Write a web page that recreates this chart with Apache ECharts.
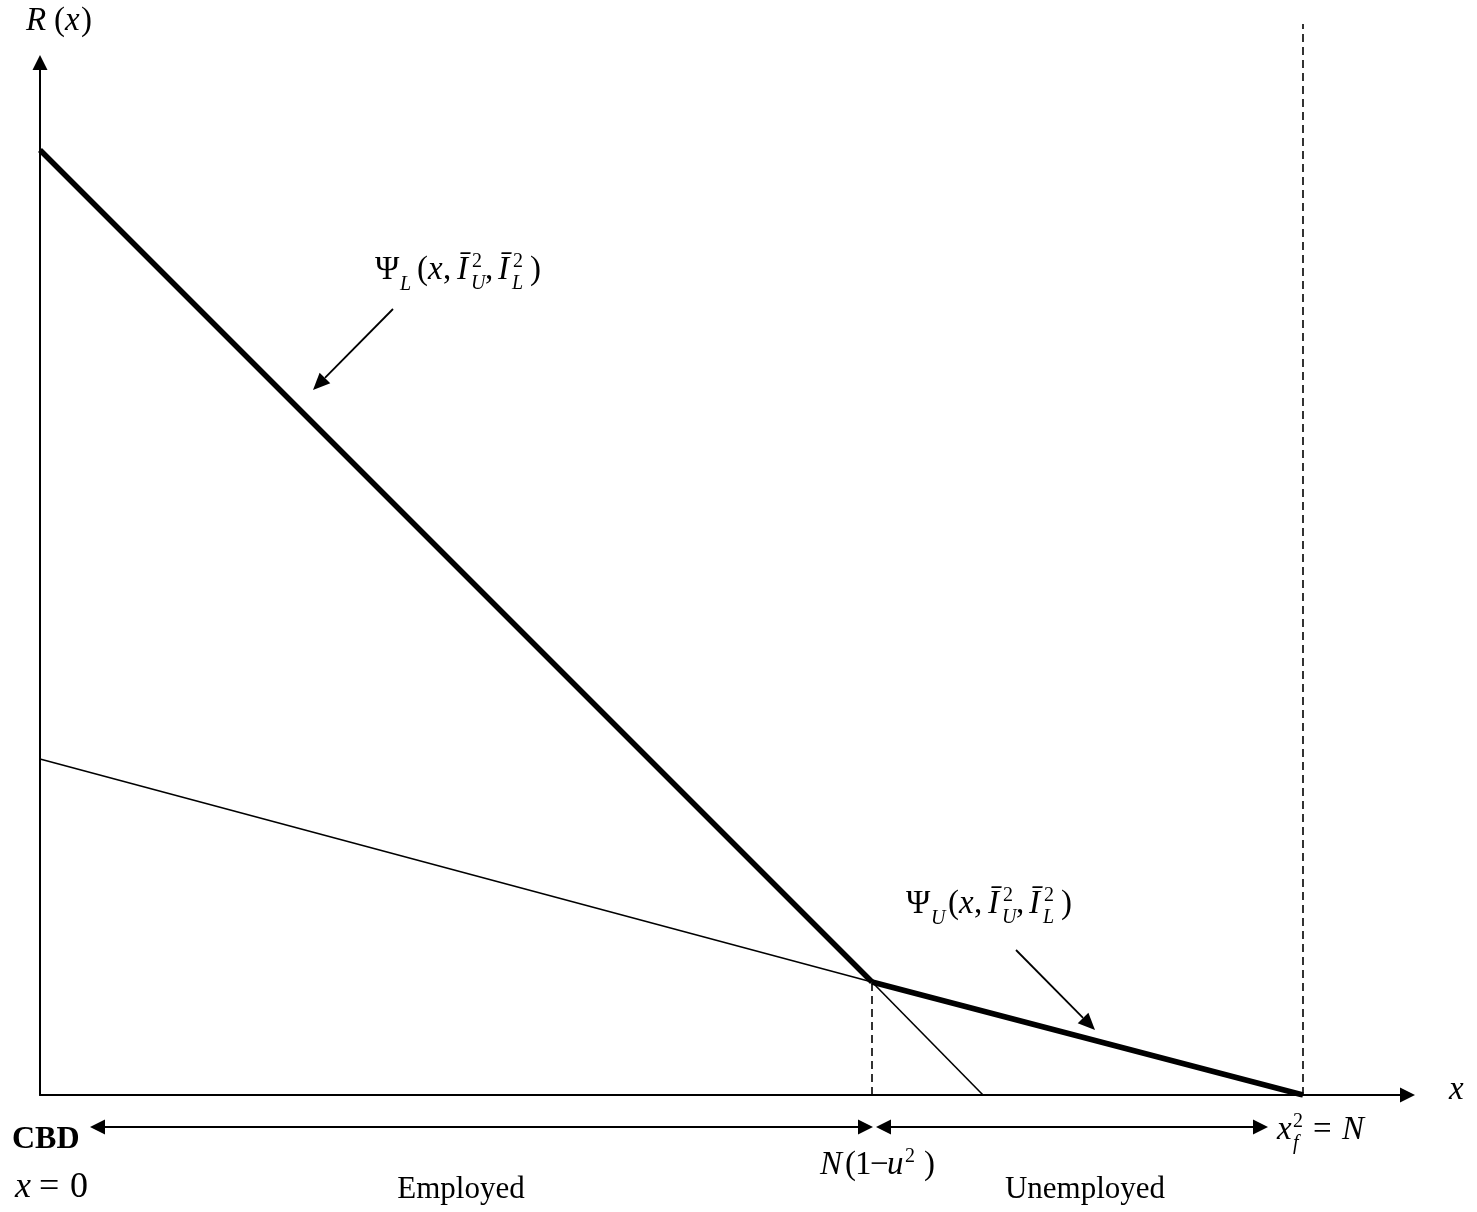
<!DOCTYPE html>
<html>
<head>
<meta charset="utf-8">
<script src="https://cdn.jsdelivr.net/npm/echarts@6/dist/echarts.min.js"></script>
<style>
html,body{margin:0;padding:0;background:#fff;}
#chart{width:1477px;height:1212px;}
</style>
</head>
<body>
<div id="chart"></div>
<script>
// ---- data (arbitrary units) ----
const psiLx = [0, 832, 943];      // Psi_L bid-rent: x positions
const psiLy = [945, 113, 0];      // Psi_L bid-rent: values
const psiUx = [0, 832, 1263];     // Psi_U bid-rent: x positions
const psiUy = [336, 113, 0];      // Psi_U bid-rent: values
const employedEdge = 832;         // N(1-u^2)
const cityEdge = 1263;            // x_f^2 = N
const edgeRent = 113;             // rent at N(1-u^2)
const dashTopValue = 1071;        // top of dashed line at city edge
const rangeStart = 50;            // left end of the "Employed" range arrow

const xMax = 1367.5, yMax = 1032.5;

const chart = echarts.init(document.getElementById('chart'), null, {renderer:'canvas'});
const black = '#000';
const SERIF = '"Liberation Serif","Times New Roman",serif';

function seg(xs, ys, i0, i1){
  const out = [];
  for (let i = i0; i <= i1; i++) out.push([xs[i], ys[i]]);
  return out;
}

const option = {
  animation:false,
  backgroundColor:'#fff',
  grid:{left:40, top:62.5, width:1367.5, height:1032.5, containLabel:false},
  xAxis:{type:'value', min:0, max:xMax,
    axisLine:{show:true, onZero:true, symbol:['none','triangle'], symbolSize:[15,15], lineStyle:{color:black, width:2}},
    axisTick:{show:false}, axisLabel:{show:false}, splitLine:{show:false}},
  yAxis:{type:'value', min:0, max:yMax,
    axisLine:{show:true, symbol:['none','triangle'], symbolSize:[15,15], lineStyle:{color:black, width:2}},
    axisTick:{show:false}, axisLabel:{show:false}, splitLine:{show:false}},
  series:[
    {name:'PsiL-bold', type:'line', data:seg(psiLx, psiLy, 0, 1), symbol:'none', lineStyle:{color:black, width:5.5}, z:5},
    {name:'PsiL-thin', type:'line', data:seg(psiLx, psiLy, 1, 2), symbol:'none', lineStyle:{color:black, width:1.6}},
    {name:'PsiU-thin', type:'line', data:seg(psiUx, psiUy, 0, 1), symbol:'none', lineStyle:{color:black, width:1.6}},
    {name:'PsiU-bold', type:'line', data:seg(psiUx, psiUy, 1, 2), symbol:'none', lineStyle:{color:black, width:5.5}, z:5},
    {name:'dash1', type:'line', data:[[employedEdge,0],[employedEdge,edgeRent]], symbol:'none', clip:false,
      lineStyle:{color:black, width:1.6, type:[8,5]}},
    {name:'dash2', type:'line', data:[[cityEdge,0],[cityEdge,dashTopValue]], symbol:'none', clip:false,
      lineStyle:{color:black, width:1.6, type:[8,5]}}
  ]
};
chart.setOption(option);

// ---- annotations ----
function T(text, x, base, size, o){
  o = o || {};
  return {type:'text', x:x, y:base - 0.34*size, z:20, silent:true,
    style:{text:text, fill:black, align:o.align||'left', verticalAlign:'middle',
      font:(o.italic?'italic ':'') + (o.bold?'bold ':'') + size + 'px ' + SERIF}};
}
function head(tx, ty, dx, dy, len, w){
  const L = Math.hypot(dx, dy), ux = dx/L, uy = dy/L;
  const bx = tx - ux*len, by = ty - uy*len;
  const px = -uy, py = ux;
  return {type:'polygon', z:20, silent:true, shape:{points:[[tx,ty],[bx+px*w/2, by+py*w/2],[bx-px*w/2, by-py*w/2]]}, style:{fill:black}};
}
function arrow(x1,y1,x2,y2,both,len,w){
  len = len || 15; w = w || 15;
  const dx = x2-x1, dy = y2-y1, L = Math.hypot(dx,dy), ux=dx/L, uy=dy/L;
  const els = [];
  const sx = both ? x1 + ux*len : x1, sy = both ? y1 + uy*len : y1;
  els.push({type:'line', z:20, silent:true, shape:{x1:sx, y1:sy, x2:x2-ux*len, y2:y2-uy*len}, style:{stroke:black, lineWidth:1.8}});
  els.push(head(x2, y2, dx, dy, len, w));
  if (both) els.push(head(x1, y1, -dx, -dy, len, w));
  return els;
}
const M = 33, S = 20;
function psiLabel(x0, base, firstSub){
  return [
    T('\u03A8', x0, base, M),
    T(firstSub, x0+25, base+10, S, {italic:true}),
    T('(', x0+42, base, M),
    T('x', x0+53, base, M, {italic:true}),
    T(',', x0+68, base, M),
    T('\u012A', x0+82, base, M, {italic:true}),
    T('2', x0+97, base-13, S),
    T('U', x0+96, base+9, S, {italic:true}),
    T(',', x0+110, base, M),
    T('\u012A', x0+123, base, M, {italic:true}),
    T('2', x0+138, base-13, S),
    T('L', x0+137, base+9, S, {italic:true}),
    T(')', x0+155, base, M)
  ];
}

const p = (x,y) => chart.convertToPixel({gridIndex:0}, [x,y]);
const pE = p(employedEdge, 0), pN = p(cityEdge, 0), pS = p(rangeStart, 0);
const rowY = pE[1] + 32;

let g = [];
g = g.concat([
  T('R', 26, 33, M, {italic:true}), T('(', 54, 33, M), T('x', 65, 33, M, {italic:true}), T(')', 81, 33, M),
  T('x', 1449, 1102, M, {italic:true}),
  T('CBD', 12, 1151, 32, {bold:true}),
  T('x', 15, 1200, 36, {italic:true}), T('=', 39, 1200, 36), T('0', 70, 1200, 36),
  T('Employed', 461, 1200, 31, {align:'center'}),
  T('Unemployed', 1085, 1200, 31, {align:'center'}),
  T('N', 820, 1177, M, {italic:true}), T('(', 845, 1177, M), T('1', 855, 1177, M), T('\u2212', 870, 1177, M),
  T('u', 887, 1177, M, {italic:true}), T('2', 905, 1164, S), T(')', 924, 1177, M),
  T('x', 1277, 1142, M, {italic:true}), T('2', 1293, 1129, S), T('f', 1293, 1151, S, {italic:true}),
  T('=', 1313, 1142, M), T('N', 1342, 1142, M, {italic:true})
]);
g = g.concat(psiLabel(375, 282, 'L'));
g = g.concat(psiLabel(906, 916, 'U'));
g = g.concat(arrow(393, 309, 313, 390, false, 17, 15));
g = g.concat(arrow(1016, 950, 1095, 1030, false, 17, 15));
g = g.concat(arrow(pS[0], rowY, pE[0]+1, rowY, true));
g = g.concat(arrow(pE[0]+4, rowY, pN[0]-35, rowY, true));

chart.setOption({graphic:{elements:g}});
</script>
</body>
</html>
